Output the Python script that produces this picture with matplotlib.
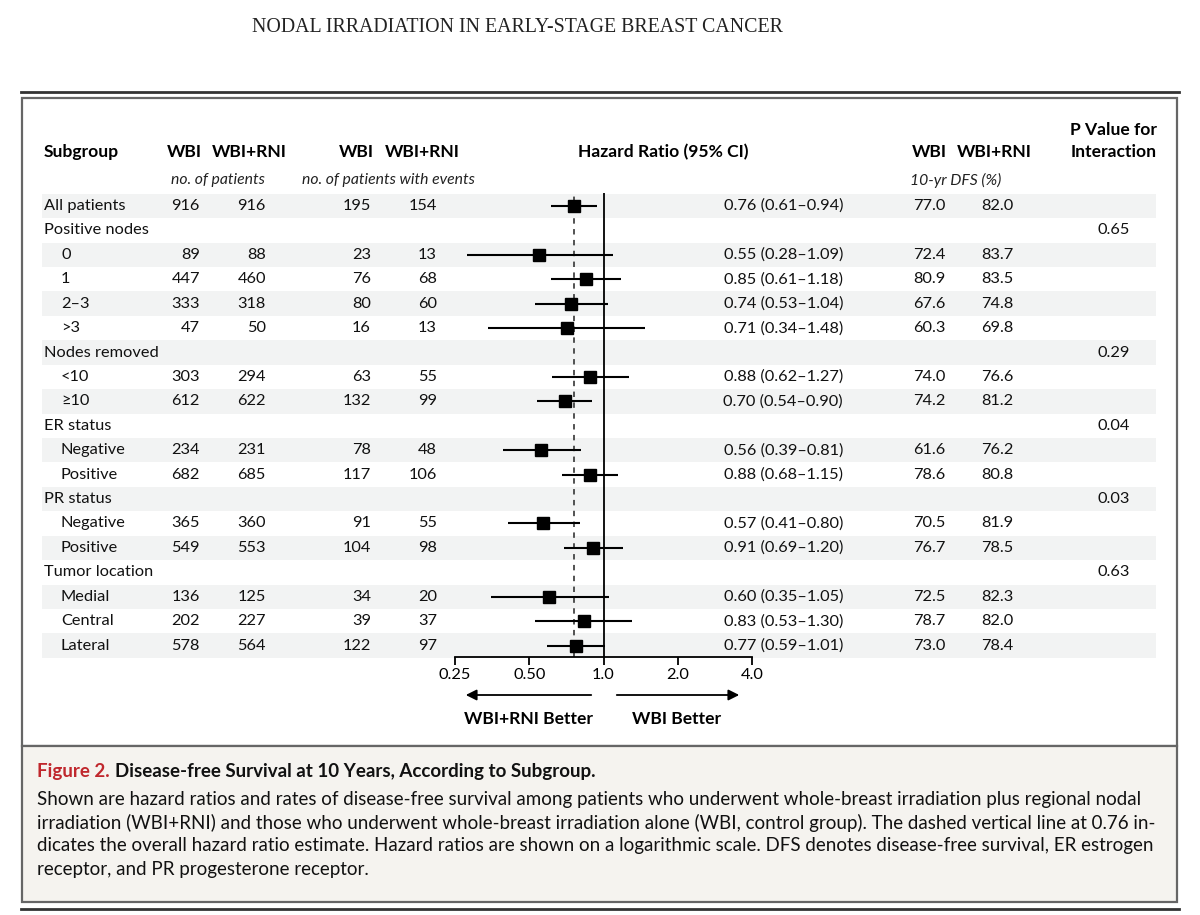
import matplotlib
matplotlib.use('Agg')
import matplotlib.pyplot as plt
from matplotlib.patches import Rectangle
import numpy as np

# ---- data ----
labels = ['All patients', 'Positive nodes', '0', '1', '2\u20133', '>3',
          'Nodes removed', '<10', '\u226510', 'ER status', 'Negative', 'Positive',
          'PR status', 'Negative', 'Positive', 'Tumor location', 'Medial', 'Central', 'Lateral']
indent = [0, 0, 1, 1, 1, 1, 0, 1, 1, 0, 1, 1, 0, 1, 1, 0, 1, 1, 1]
n_wbi = [916, None, 89, 447, 333, 47, None, 303, 612, None, 234, 682, None, 365, 549, None, 136, 202, 578]
n_rni = [916, None, 88, 460, 318, 50, None, 294, 622, None, 231, 685, None, 360, 553, None, 125, 227, 564]
ev_wbi = [195, None, 23, 76, 80, 16, None, 63, 132, None, 78, 117, None, 91, 104, None, 34, 39, 122]
ev_rni = [154, None, 13, 68, 60, 13, None, 55, 99, None, 48, 106, None, 55, 98, None, 20, 37, 97]
hr = [0.76, None, 0.55, 0.85, 0.74, 0.71, None, 0.88, 0.70, None, 0.56, 0.88, None, 0.57, 0.91, None, 0.60, 0.83, 0.77]
hr_lo = [0.61, None, 0.28, 0.61, 0.53, 0.34, None, 0.62, 0.54, None, 0.39, 0.68, None, 0.41, 0.69, None, 0.35, 0.53, 0.59]
hr_hi = [0.94, None, 1.09, 1.18, 1.04, 1.48, None, 1.27, 0.90, None, 0.81, 1.15, None, 0.80, 1.20, None, 1.05, 1.30, 1.01]
dfs_wbi = [77.0, None, 72.4, 80.9, 67.6, 60.3, None, 74.0, 74.2, None, 61.6, 78.6, None, 70.5, 76.7, None, 72.5, 78.7, 73.0]
dfs_rni = [82.0, None, 83.7, 83.5, 74.8, 69.8, None, 76.6, 81.2, None, 76.2, 80.8, None, 81.9, 78.5, None, 82.3, 82.0, 78.4]
p_int = [None, '0.65', None, None, None, None, '0.29', None, None, '0.04', None, None,
         '0.03', None, None, '0.63', None, None, None]
ticks = [0.25, 0.5, 1.0, 2.0, 4.0]
tick_labels = ['0.25', '0.50', '1.0', '2.0', '4.0']

SANS = 'Lato'
FS = 11.8
FSB = 12.6
W, H = 1200, 915
fig = plt.figure(figsize=(12, 9.15), dpi=100)
bg = fig.add_axes([0, 0, 1, 1])
bg.set_xlim(0, W)
bg.set_ylim(H, 0)
bg.axis('off')

# page header
bg.text(517, 28, 'NODAL IRRADIATION IN EARLY-STAGE BREAST CANCER', family='Liberation Serif',
        fontsize=14.3, ha='center', va='center', color='#222222')

# rules and boxes
bg.plot([21, 1179], [92, 92], color='#333333', lw=2)
bg.add_patch(Rectangle((22, 98), 1155, 648, fc='white', ec='#666666', lw=1.6))
bg.add_patch(Rectangle((22, 746), 1155, 156, fc='#f5f3ef', ec='#666666', lw=1.6))
bg.plot([21, 1179], [909, 909], color='#333333', lw=2)

# row layout
y0, dy = 206, 24.42
rows_y = [y0 + i * dy for i in range(len(labels))]
for i, y in enumerate(rows_y):
    if i % 2 == 0:
        bg.add_patch(Rectangle((42, y - dy / 2), 1114, dy, fc='#f2f3f3', ec='none'))

# column headers
hy, sy = 152, 180
bold = dict(fontsize=FSB, fontweight='bold', family=SANS, va='center')
ital = dict(fontsize=11.3, style='italic', family=SANS, va='center', color='#222222')
bg.text(44, hy, 'Subgroup', ha='left', **bold)
bg.text(184, hy, 'WBI', ha='center', **bold)
bg.text(249, hy, 'WBI+RNI', ha='center', **bold)
bg.text(218, sy, 'no. of patients', ha='center', **ital)
bg.text(356, hy, 'WBI', ha='center', **bold)
bg.text(422, hy, 'WBI+RNI', ha='center', **bold)
bg.text(388, sy, 'no. of patients with events', ha='center', **ital)
bg.text(663, hy, 'Hazard Ratio (95% CI)', ha='center', **bold)
bg.text(929, hy, 'WBI', ha='center', **bold)
bg.text(994, hy, 'WBI+RNI', ha='center', **bold)
bg.text(956, sy, '10-yr DFS (%)', ha='center', **ital)
bg.text(1114, 130, 'P Value for', ha='center', **bold)
bg.text(1114, 152, 'Interaction', ha='center', **bold)

# table body
cell = dict(fontsize=FS, family=SANS, va='center', color='#111111')
for i, y in enumerate(rows_y):
    bg.text(44 + 17 * indent[i], y, labels[i], ha='left', **cell)
    if n_wbi[i] is not None:
        bg.text(200, y, str(n_wbi[i]), ha='right', **cell)
        bg.text(266, y, str(n_rni[i]), ha='right', **cell)
        bg.text(371, y, str(ev_wbi[i]), ha='right', **cell)
        bg.text(437, y, str(ev_rni[i]), ha='right', **cell)
        bg.text(843, y, f'{hr[i]:.2f} ({hr_lo[i]:.2f}\u2013{hr_hi[i]:.2f})', ha='right', **cell)
        bg.text(945, y, f'{dfs_wbi[i]:.1f}', ha='right', **cell)
        bg.text(1013, y, f'{dfs_rni[i]:.1f}', ha='right', **cell)
    if p_int[i] is not None:
        bg.text(1130, y, p_int[i], ha='right', **cell)

# forest plot axes
ax_top, ax_bot, ax_l, ax_r = 193, 657, 455, 752
ax = fig.add_axes([ax_l / W, 1 - ax_bot / H, (ax_r - ax_l) / W, (ax_bot - ax_top) / H])
ax.patch.set_alpha(0)
ax.set_xscale('log')
ax.set_xlim(0.25, 4.0)
ax.set_ylim((ax_bot - y0) / dy, (ax_top - y0) / dy)
for s in ['top', 'right', 'left']:
    ax.spines[s].set_visible(False)
ax.spines['bottom'].set_linewidth(1.3)
ax.set_xticks(ticks)
ax.set_xticklabels(tick_labels, family=SANS, fontsize=FS)
ax.xaxis.set_minor_locator(matplotlib.ticker.NullLocator())
ax.tick_params(axis='x', direction='out', length=6, width=1.3, pad=2)
ax.set_yticks([])

ax.axvline(1.0, color='black', lw=1.3)
ax.axvline(hr[0], color='#444444', lw=1.3, ls=(0, (3, 3)))
for i in range(len(labels)):
    if hr[i] is None:
        continue
    ax.plot([hr_lo[i], hr_hi[i]], [i, i], color='black', lw=1.5, solid_capstyle='butt')
    ax.plot(hr[i], i, marker='s', ms=9, color='black')

# direction arrows
bg.annotate('', xy=(463, 695), xytext=(594, 695),
            arrowprops=dict(arrowstyle='-|>', color='black', lw=1.3, mutation_scale=16))
bg.annotate('', xy=(742, 695), xytext=(614, 695),
            arrowprops=dict(arrowstyle='-|>', color='black', lw=1.3, mutation_scale=16))
bg.text(529, 719, 'WBI+RNI Better', ha='center', **bold)
bg.text(677, 719, 'WBI Better', ha='center', **bold)

# caption
cap_fs = 13.5
t = bg.text(37, 772, 'Figure 2.', color='#c0272d', fontweight='bold', family=SANS,
            fontsize=cap_fs, ha='left', va='center')
fig.canvas.draw()
bb = t.get_window_extent()
bg.text(bb.x1 + 5, 772, 'Disease-free Survival at 10 Years, According to Subgroup.', color='#111111',
        fontweight='bold', family=SANS, fontsize=cap_fs, ha='left', va='center')
cap_lines = [
    'Shown are hazard ratios and rates of disease-free survival among patients who underwent whole-breast irradiation plus regional nodal',
    'irradiation (WBI+RNI) and those who underwent whole-breast irradiation alone (WBI, control group). The dashed vertical line at 0.76 in-',
    'dicates the overall hazard ratio estimate. Hazard ratios are shown on a logarithmic scale. DFS denotes disease-free survival, ER estrogen',
    'receptor, and PR progesterone receptor.',
]
for k, line in enumerate(cap_lines):
    bg.text(37, 800 + 23 * k, line, family=SANS, fontsize=cap_fs, ha='left', va='center', color='#111111')

fig.savefig('out.png', dpi=100)
